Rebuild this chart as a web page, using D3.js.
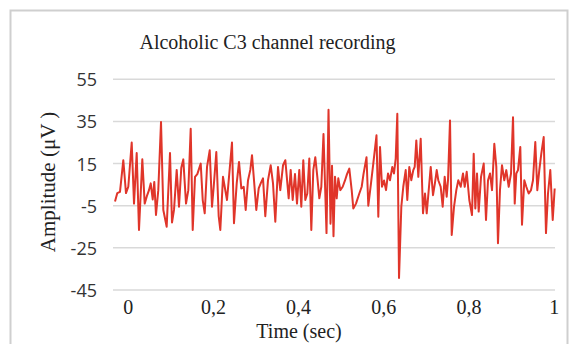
<!DOCTYPE html>
<html>
<head>
<meta charset="utf-8">
<script src="https://cdn.jsdelivr.net/npm/d3@7"></script>
<style>
  html, body { margin: 0; padding: 0; background: #ffffff; }
  svg { display: block; }
</style>
</head>
<body>
<svg id="chart" width="576" height="344"></svg>
<script>
// EEG trace, channel C3, alcoholic subject: time (s) and amplitude (µV)
const timeSec = [
  -0.0298, -0.0244, -0.0181, -0.0103, -0.0040, 0.0014, 0.0094, 0.0148, 0.0211, 0.0265,
  0.0343, 0.0399, 0.0446, 0.0500, 0.0540, 0.0587, 0.0624, 0.0664, 0.0718, 0.0782,
  0.0836, 0.0915, 0.0993, 0.1040, 0.1087, 0.1150, 0.1204, 0.1258, 0.1305, 0.1369,
  0.1423, 0.1479, 0.1526, 0.1580, 0.1634, 0.1714, 0.1761, 0.1808, 0.1862, 0.1925,
  0.1979, 0.2019, 0.2080, 0.2136, 0.2174, 0.2237, 0.2277, 0.2331, 0.2378, 0.2448,
  0.2495, 0.2559, 0.2613, 0.2667, 0.2723, 0.2770, 0.2824, 0.2878, 0.2918, 0.2965,
  0.3019, 0.3075, 0.3122, 0.3176, 0.3230, 0.3293, 0.3357, 0.3411, 0.3465, 0.3528,
  0.3582, 0.3646, 0.3700, 0.3779, 0.3826, 0.3873, 0.3927, 0.3974, 0.4028, 0.4075,
  0.4122, 0.4169, 0.4216, 0.4263, 0.4310, 0.4357, 0.4404, 0.4451, 0.4498, 0.4545,
  0.4596, 0.4667, 0.4714, 0.4761, 0.4796, 0.4831, 0.4866, 0.4906, 0.4944, 0.4991,
  0.5047, 0.5101, 0.5148, 0.5202, 0.5258, 0.5296, 0.5359, 0.5437, 0.5493, 0.5535,
  0.5606, 0.5648, 0.5711, 0.5765, 0.5840, 0.5883, 0.5923, 0.5970, 0.6017, 0.6064,
  0.6111, 0.6157, 0.6211, 0.6251, 0.6291, 0.6329, 0.6369, 0.6423, 0.6469, 0.6526,
  0.6563, 0.6610, 0.6657, 0.6704, 0.6737, 0.6775, 0.6822, 0.6878, 0.6932, 0.6979,
  0.7019, 0.7073, 0.7113, 0.7167, 0.7214, 0.7254, 0.7291, 0.7347, 0.7394, 0.7441,
  0.7488, 0.7519, 0.7566, 0.7606, 0.7660, 0.7714, 0.7761, 0.7817, 0.7871, 0.7911,
  0.7958, 0.8019, 0.8082, 0.8122, 0.8160, 0.8200, 0.8239, 0.8294, 0.8357, 0.8411,
  0.8458, 0.8505, 0.8552, 0.8606, 0.8653, 0.8692, 0.8739, 0.8786, 0.8840, 0.8887,
  0.8944, 0.8998, 0.9045, 0.9085, 0.9122, 0.9162, 0.9216, 0.9256, 0.9310, 0.9357,
  0.9413, 0.9467, 0.9514, 0.9568, 0.9615, 0.9662, 0.9709, 0.9765, 0.9819, 0.9866,
  0.9920, 0.9977, 1.0023
];

const amplitudeUV = [
  -3, 1, 1.6, 16.6, 1, 4, 25, -4, 20, -16.5,
  17, -4, -0.7, 2.4, 5.6, -2, 6.3, -9.4, 2.4, 34.7,
  -7, -15, 20, -13, -7, 12, -5.5, 13, 17, -4,
  2.4, 31.5, -16.5, 8.7, 10, 15, -2.3, -8.6, 13.4, 21.3,
  -5.5, 4, 20.5, -10, -16.5, 8.7, 4, -2.3, 8.7, 25,
  -13.3, 5.6, 15.8, 3.2, 4, -7, 7, 12, 19, 7,
  -7, 3.2, 5.6, 8, -10, 7, 14.2, 5.6, -12.6, 13.4,
  2.4, 14.2, 16.6, -1.5, 12, -2.3, 10, -4, 12, -5.5,
  16.6, -2.3, 0.8, 17.4, -16.5, 12, 18, 8.7, -1.5, 4,
  29, -18, 40.5, -13.5, 14, -19.5, 8.7, -1.5, 8, 2.4,
  4, 7, 10, 12.6, 2.4, -6.3, -4, 0.8, 4, 10,
  18, -5, 5.6, 15, 28.4, -10.2, 22.9, 4, 7, 2.4,
  10.3, 7.1, 13.4, 10.3, 17.4, 38.6, -39.3, -5.5, 4, 11.9,
  -2.3, 13.4, 7.1, 11.9, 13.4, 26, 8.7, 26.8, -8.6, 0.8,
  -8.6, 4, 13.4, 0, 6, 11.9, 7.1, 4, -5.5, 8.7,
  -0.7, 7.1, 35.5, -18.9, -5.5, 2.4, 7.1, 4, 10.3, 4,
  11.1, -2.3, -9.4, 19.7, -6.3, 10.3, -7.8, 8.7, 15, -11.8,
  7.1, 10.3, 2.4, 24.4, 13.4, -22.8, 2.4, 14.2, 7.1, 11.9,
  4, 10.3, 37, -4, 10.3, 11.9, 22.9, -14, 7.1, 4,
  0.8, 2.4, 7.1, 25.2, 2.4, 11.9, 19.7, 27.6, -18, 0.8,
  11.9, -11.8, 3.2
];

// Axis ticks
const yTicks = [55, 35, 15, -5, -25, -45];
const yTickLabels = ["55", "35", "15", "-5", "-25", "-45"];
const xTicks = [0, 0.2, 0.4, 0.6, 0.8, 1];
const xTickLabels = ["0", "0,2", "0,4", "0,6", "0,8", "1"];

const svg = d3.select("#chart");
const serif = "'Liberation Serif', 'Times New Roman', serif";
const sans = "'Open Sans', 'Liberation Sans', sans-serif";

// Plot frame
const plot = { left: 113, right: 555, top: 79.3, bottom: 290 };

const x = d3.scaleLinear().domain([0, 1]).range([127.7, 553.7]);
const y = d3.scaleLinear().domain([-45, 55]).range([plot.bottom, plot.top]);

// Outer chart border
svg.append("rect")
  .attr("x", 10.5).attr("y", 10.5)
  .attr("width", 557).attr("height", 340)
  .attr("fill", "#ffffff")
  .attr("stroke", "#cfcfcf")
  .attr("stroke-width", 2);

// Title
svg.append("text")
  .attr("x", 267.5).attr("y", 49)
  .attr("text-anchor", "middle")
  .attr("font-family", serif)
  .attr("font-size", 20)
  .attr("fill", "#222")
  .text("Alcoholic C3 channel recording");

// Horizontal gridlines
svg.append("g")
  .selectAll("line")
  .data(yTicks)
  .join("line")
  .attr("x1", plot.left).attr("x2", plot.right)
  .attr("y1", d => y(d)).attr("y2", d => y(d))
  .attr("stroke", "#d9d9d9")
  .attr("stroke-width", 1.5);

// Y axis labels
const yAxis = d3.axisLeft(y).tickValues(yTicks)
  .tickFormat((d, i) => yTickLabels[i]).tickSize(0).tickPadding(0);
const gy = svg.append("g")
  .attr("transform", `translate(97,0)`)
  .call(yAxis);
gy.select(".domain").remove();
gy.selectAll("text")
  .attr("font-family", sans)
  .attr("font-size", 18)
  .attr("fill", "#333")
  .attr("dy", "0.36em");

// X axis labels
const xAxis = d3.axisBottom(x).tickValues(xTicks)
  .tickFormat((d, i) => xTickLabels[i]).tickSize(0).tickPadding(0);
const gx = svg.append("g")
  .attr("transform", `translate(0,${plot.bottom})`)
  .call(xAxis);
gx.select(".domain").remove();
gx.selectAll("text")
  .attr("font-family", serif)
  .attr("font-size", 20)
  .attr("fill", "#222")
  .attr("dy", null)
  .attr("y", 24);

// Axis titles
svg.append("text")
  .attr("transform", "translate(55,182) rotate(-90)")
  .attr("text-anchor", "middle")
  .attr("font-family", serif)
  .attr("font-size", 21)
  .attr("fill", "#222")
  .text("Amplitude (μV )");

svg.append("text")
  .attr("x", 299).attr("y", 338)
  .attr("text-anchor", "middle")
  .attr("font-family", serif)
  .attr("font-size", 20)
  .attr("fill", "#222")
  .text("Time (sec)");

// Signal trace
const samples = timeSec.map((t, i) => ({ t, v: amplitudeUV[i] }));
const line = d3.line().x(d => x(d.t)).y(d => y(d.v));

svg.append("path")
  .datum(samples)
  .attr("d", line)
  .attr("fill", "none")
  .attr("stroke", "#e0352a")
  .attr("stroke-width", 2)
  .attr("stroke-linejoin", "round");
</script>
</body>
</html>
